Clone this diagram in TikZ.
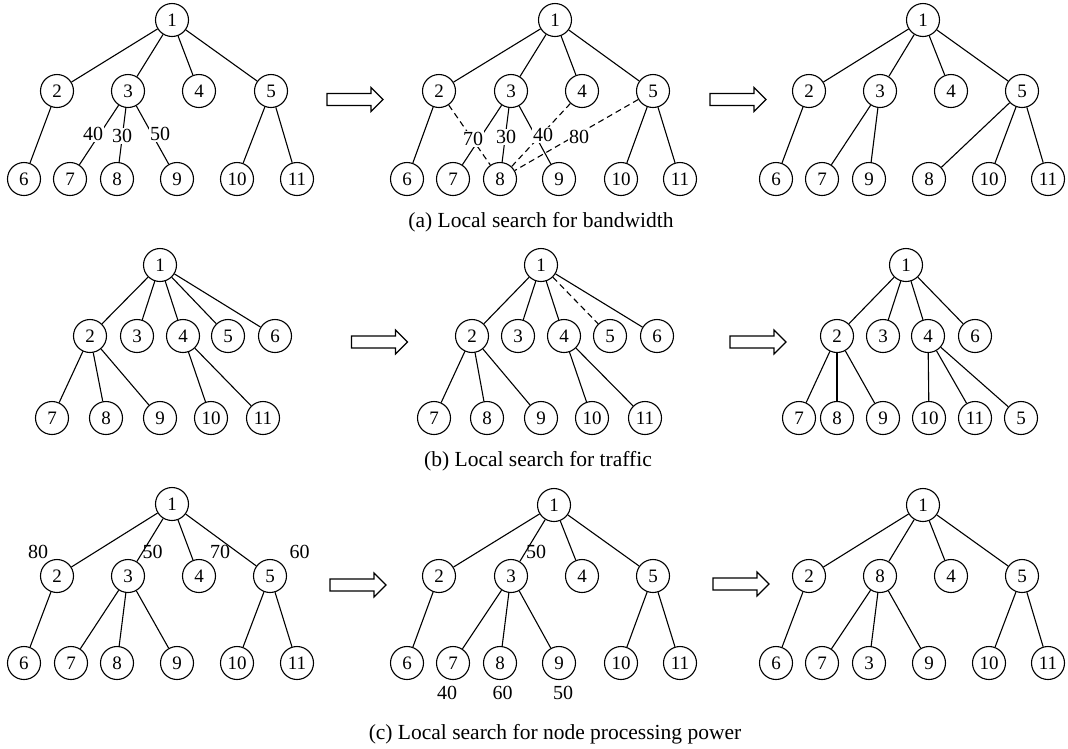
\documentclass[tikz,border=0pt]{standalone}
\usepackage{fontspec}
\setmainfont{Liberation Serif}
\begin{document}
\begin{tikzpicture}[x=1pt,y=-1pt,
  nd/.style={circle,draw,line width=1.1pt,minimum size=33pt,inner sep=0pt,font=\fontsize{19}{19}\selectfont},
  edge/.style={line width=1.1pt},
  dedge/.style={line width=1.1pt,dash pattern=on 6pt off 4pt},
  lbl/.style={fill=white,inner sep=1pt,font=\fontsize{20}{20}\selectfont},
  wt/.style={inner sep=0pt,font=\fontsize{20}{20}\selectfont},
  hollowarrow/.pic={\draw[line width=1.1pt] (-28,-6) -- (16,-6) -- (16,-12) -- (28,0) -- (16,12) -- (16,6) -- (-28,6) -- cycle;},
  captext/.style={anchor=base,inner sep=0pt,font=\fontsize{21.5}{21.5}\selectfont}
]
\useasboundingbox (0,0) rectangle (1068,748);

% ---------- Row (a) ----------
\foreach \n/\x/\y in {1/172/20,2/57/91,3/128/91,4/199/91,5/271/91,6/24/179,7/70/179,8/117/179,9/177/179,10/237/179,11/297/179}
  \node[nd] (A\n) at (\x,\y) {\n};
\foreach \a/\b in {1/2,1/3,1/4,1/5,2/6,3/7,3/8,3/9,5/10,5/11}
  \draw[edge] (A\a) -- (A\b);
\node[lbl] (Al40) at (93,134) {40};
\node[lbl] (Al30) at (122,136) {30};
\node[lbl] (Al50) at (160,134) {50};

\pic at (355,99.5) {hollowarrow};

\foreach \n/\x/\y in {1/555/20,2/439/91,3/511/91,4/582/91,5/653/91,6/407/179,7/453/179,8/500/179,9/559/179,10/621/179,11/680/179}
  \node[nd] (B\n) at (\x,\y) {\n};
\foreach \a/\b in {1/2,1/3,1/4,1/5,2/6,3/7,3/8,3/9,5/10,5/11}
  \draw[edge] (B\a) -- (B\b);
\foreach \a/\b in {2/8,4/8,5/8}
  \draw[dedge] (B\a) -- (B\b);
\node[lbl] (Bl70) at (473,139) {70};
\node[lbl] (Bl30) at (506,137) {30};
\node[lbl] (Bl40) at (543,135) {40};
\node[lbl] (Bl80) at (579,137) {80};

\pic at (738,99.5) {hollowarrow};

\foreach \n/\x/\y in {1/923/20,2/809/91,3/880/91,4/951/91,5/1022/91,6/776/179,7/822/179,9/869/179,8/929/179,10/989/179,11/1048/179}
  \node[nd] (C\n) at (\x,\y) {\n};
\foreach \a/\b in {1/2,1/3,1/4,1/5,2/6,3/7,3/9,5/8,5/10,5/11}
  \draw[edge] (C\a) -- (C\b);

\node[captext] (capA) at (541,227) {(a) Local search for bandwidth};

% ---------- Row (b) ----------
\foreach \n/\x/\y in {1/160/265,2/90/336,3/137/336,4/183/336,5/228/336,6/275/336,7/52/418,8/106/418,9/160/418,10/211/418,11/263/418}
  \node[nd] (D\n) at (\x,\y) {\n};
\foreach \a/\b in {1/2,1/3,1/4,1/5,1/6,2/7,2/8,2/9,4/10,4/11}
  \draw[edge] (D\a) -- (D\b);

\pic at (379.5,342) {hollowarrow};

\foreach \n/\x/\y in {1/541/265,2/472/336,3/518/336,4/564/336,5/610/336,6/657/336,7/434/418,8/487/418,9/541/418,10/592/418,11/645/418}
  \node[nd] (E\n) at (\x,\y) {\n};
\foreach \a/\b in {1/2,1/3,1/4,1/6,2/7,2/8,2/9,4/10,4/11}
  \draw[edge] (E\a) -- (E\b);
\draw[dedge] (E1) -- (E5);

\pic at (758,342) {hollowarrow};

\foreach \n/\x/\y in {1/906/265,2/837/336,3/883/336,4/928/336,6/975/336,7/799/418,8/837/418,9/883/418,10/929/418,11/975/418,5/1021/418}
  \node[nd] (F\n) at (\x,\y) {\n};
\foreach \a/\b in {1/2,1/3,1/4,1/6,2/7,2/8,2/9,4/10,4/11,4/5}
  \draw[edge] (F\a) -- (F\b);

\node[captext] (capB) at (538,466) {(b) Local search for traffic};

% ---------- Row (c) ----------
\foreach \n/\x/\y in {1/172/504,2/57/576,3/128/576,4/199/576,5/270/576,6/24/663,7/71/663,8/117/663,9/177/663,10/237/663,11/297/663}
  \node[nd] (G\n) at (\x,\y) {\n};
\foreach \a/\b in {1/2,1/3,1/4,1/5,2/6,3/7,3/8,3/9,5/10,5/11}
  \draw[edge] (G\a) -- (G\b);
\node[wt] (Gw2) at (38,552) {80};
\node[wt] (Gw3) at (152.5,552) {50};
\node[wt] (Gw4) at (220,552) {70};
\node[wt] (Gw5) at (299.5,552) {60};

\pic at (358,585) {hollowarrow};

\foreach \n/\x/\y in {1/554/505,2/439/576,3/511/576,4/582/576,5/653/576,6/407/663,7/453/663,8/500/663,9/559/663,10/621/663,11/680/663}
  \node[nd] (H\n) at (\x,\y) {\n};
\foreach \a/\b in {1/2,1/3,1/4,1/5,2/6,3/7,3/8,3/9,5/10,5/11}
  \draw[edge] (H\a) -- (H\b);
\node[wt] (Hw3) at (536,552) {50};
\node[wt] (Hw7) at (447,693) {40};
\node[wt] (Hw8) at (502.5,693) {60};
\node[wt] (Hw9) at (563,693) {50};

\pic at (741,584) {hollowarrow};

\foreach \n/\x/\y in {1/923/505,2/809/576,8/880/576,4/951/576,5/1022/576,6/776/663,7/822/663,3/869/663,9/929/663,10/989/663,11/1048/663}
  \node[nd] (I\n) at (\x,\y) {\n};
\foreach \a/\b in {1/2,1/8,1/4,1/5,2/6,8/7,8/3,8/9,5/10,5/11}
  \draw[edge] (I\a) -- (I\b);

\node[captext] (capC) at (555,739) {(c) Local search for node processing power};
\end{tikzpicture}
\end{document}
